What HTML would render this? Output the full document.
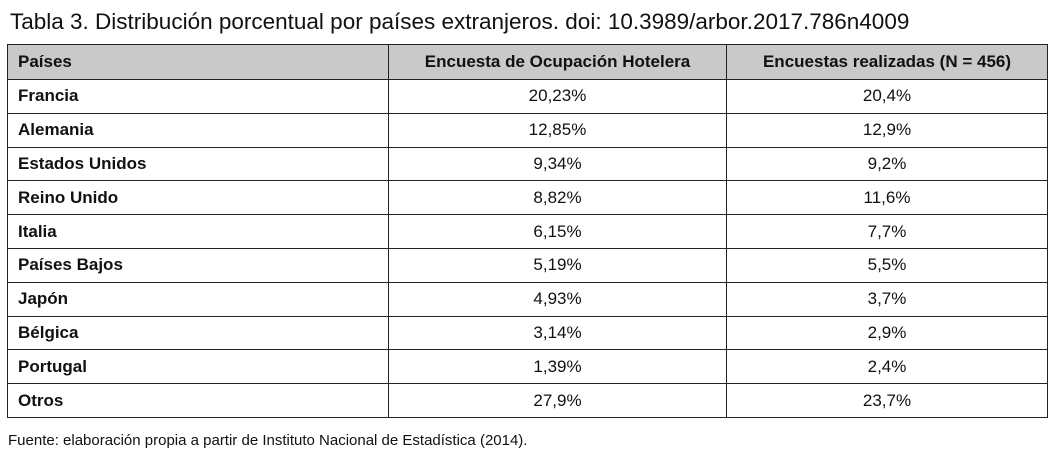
<!DOCTYPE html>
<html><head><meta charset="utf-8">
<style>
body{margin:0;width:1056px;height:462px;background:#fff;font-family:"Liberation Sans",sans-serif;color:#111;position:relative;overflow:hidden}
#title{position:absolute;left:10px;top:9px;font-size:22.5px;white-space:nowrap}
table{position:absolute;left:7px;top:44px;border-collapse:collapse;width:1041px;font-size:17px}
td,th{border:1.5px solid #222;height:33.8px;padding:0 10px;box-sizing:border-box}
th{background:#c9c9c9;font-weight:bold;height:35px}
th:first-child,td:first-child{text-align:left;font-weight:bold;width:381px}
th:nth-child(2),td:nth-child(2){width:338px;text-align:center}
td:nth-child(3),th:nth-child(3){text-align:center}
#src{position:absolute;left:8px;top:432px;font-size:15px;white-space:nowrap}
</style></head><body>
<div id="title">Tabla 3. Distribución porcentual por países extranjeros. doi: 10.3989/arbor.2017.786n4009</div>
<table>
<tr><th>Países</th><th>Encuesta de Ocupación Hotelera</th><th>Encuestas realizadas (N = 456)</th></tr>
<tr><td>Francia</td><td>20,23%</td><td>20,4%</td></tr>
<tr><td>Alemania</td><td>12,85%</td><td>12,9%</td></tr>
<tr><td>Estados Unidos</td><td>9,34%</td><td>9,2%</td></tr>
<tr><td>Reino Unido</td><td>8,82%</td><td>11,6%</td></tr>
<tr><td>Italia</td><td>6,15%</td><td>7,7%</td></tr>
<tr><td>Países Bajos</td><td>5,19%</td><td>5,5%</td></tr>
<tr><td>Japón</td><td>4,93%</td><td>3,7%</td></tr>
<tr><td>Bélgica</td><td>3,14%</td><td>2,9%</td></tr>
<tr><td>Portugal</td><td>1,39%</td><td>2,4%</td></tr>
<tr><td>Otros</td><td>27,9%</td><td>23,7%</td></tr>
</table>
<div id="src">Fuente: elaboración propia a partir de Instituto Nacional de Estadística (2014).</div>
</body></html>
